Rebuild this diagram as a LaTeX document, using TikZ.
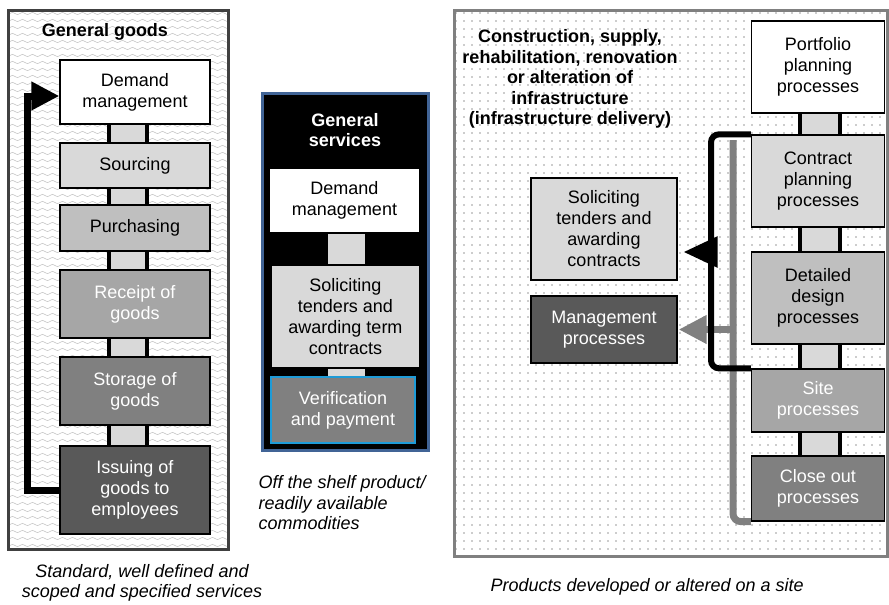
\documentclass[tikz,border=0pt]{standalone}
\usepackage{fontspec}
\setmainfont{Liberation Sans}
\usetikzlibrary{arrows.meta,patterns}

% background fills of the three panels
\pgfdeclarepatternformonly{wavy}{\pgfqpoint{-1pt}{-1pt}}{\pgfqpoint{11pt}{8pt}}{\pgfqpoint{10pt}{7pt}}{%
	\pgfsetlinewidth{0.5pt}
	\pgfpathmoveto{\pgfqpoint{0pt}{3.5pt}}
	\pgfpathsine{\pgfqpoint{2.5pt}{1.2pt}}
	\pgfpathcosine{\pgfqpoint{2.5pt}{-1.2pt}}
	\pgfpathsine{\pgfqpoint{2.5pt}{-1.2pt}}
	\pgfpathcosine{\pgfqpoint{2.5pt}{1.2pt}}
	\pgfusepath{stroke}}
\pgfdeclarepatternformonly{dotgrid}{\pgfqpoint{-1pt}{-1pt}}{\pgfqpoint{1pt}{1pt}}{\pgfqpoint{8pt}{8pt}}{%
	\pgfpathcircle{\pgfqpoint{0pt}{0pt}}{0.9pt}
	\pgfusepath{fill}}

\definecolor{servframe}{RGB}{65,100,150}
\definecolor{verframe}{RGB}{30,155,215}

\tikzset{
	box/.style={draw, line width=1.3pt, inner sep=0pt, align=center, font=\fontsize{18}{21}\selectfont},
	dark/.style={text=white},
	title/.style={align=center, font=\fontsize{18}{20.5}\selectfont\bfseries},
	caption/.style={font=\fontsize{18}{20.5}\selectfont\itshape},
}

\begin{document}
\begin{tikzpicture}[x=1pt,y=-1pt]
	\useasboundingbox (0,0) rectangle (889,605);
	
	%general goods
	\draw [line width=3pt, draw=black!75, pattern=wavy, pattern color=black!25](8,10) rectangle (228,549);
	\node [title](goods) at (105,32){General goods};
	\node [box, fill=white, minimum width=150pt, minimum height=64pt](dm) at (135,92){Demand\\management};
	\node [box, fill=black!15, minimum width=150pt, minimum height=45pt](src) at (135,165.5){Sourcing};
	\node [box, fill=black!25, minimum width=150pt, minimum height=46pt](pur) at (135,228){Purchasing};
	\node [box, dark, fill=black!35, minimum width=150pt, minimum height=68pt](rcp) at (135,304){Receipt of\\goods};
	\node [box, dark, fill=black!50, minimum width=150pt, minimum height=68pt](sto) at (135,391){Storage of\\goods};
	\node [box, dark, fill=black!65, minimum width=150pt, minimum height=88pt](iss) at (135,490){Issuing of\\goods to\\employees};
	\foreach \a/\b in {dm/src,src/pur,pur/rcp,rcp/sto,sto/iss}{
		\fill [black!15](109,0 |- \a.south) rectangle (147,0 |- \b.north);
		\draw [line width=3.5pt](109,0 |- \a.south) -- (109,0 |- \b.north);
		\draw [line width=3.5pt](147,0 |- \a.south) -- (147,0 |- \b.north);
	}
	\draw [line width=7pt, -{Triangle[length=28pt,width=27pt]}](iss.west) -- ++(-32,0) |- ([yshift=-4pt]dm.west);
	\node [caption, align=center](goodscap) at (142,583){Standard, well defined and\\scoped and specified services};
	
	%general services
	\draw [line width=3pt, draw=servframe, fill=black](262,93) rectangle (428,450);
	\node [title, text=white](serv) at (345,130){General\\services};
	\node [box, fill=white, minimum width=151pt, minimum height=65pt](sdm) at (344.5,200.5){Demand\\management};
	\node [box, fill=black!15, minimum width=149pt, minimum height=103pt](ssol) at (345.5,316.5){Soliciting\\tenders and\\awarding term\\contracts};
	\node [box, dark, fill=black!50, draw=verframe, minimum width=144pt, minimum height=66pt](sver) at (343,410){Verification\\and payment};
	\foreach \a/\b in {sdm/ssol,ssol/sver}{
		\fill [black!15](328,0 |- \a.south) rectangle (365,0 |- \b.north);
	}
	\node [caption, align=left, anchor=west](servcap) at (255,503){Off the shelf product/\\readily available\\commodities};
	
	%infrastructure delivery
	\draw [line width=3pt, draw=black!50, pattern=dotgrid, pattern color=black!40](454,10) rectangle (887,556);
	\node [title](infra) at (570,79){Construction, supply,\\rehabilitation, renovation\\or alteration of\\infrastructure\\(infrastructure delivery)};
	\node [box, fill=white, minimum width=133pt, minimum height=92pt](pp) at (818,67){Portfolio\\planning\\processes};
	\node [box, fill=black!15, minimum width=133pt, minimum height=92pt](cp) at (818,181){Contract\\planning\\processes};
	\node [box, fill=black!25, minimum width=133pt, minimum height=92pt](dd) at (818,298){Detailed\\design\\processes};
	\node [box, dark, fill=black!35, minimum width=133pt, minimum height=63pt](site) at (818,400.5){Site\\processes};
	\node [box, dark, fill=black!50, minimum width=133pt, minimum height=65pt](cls) at (818,488.5){Close out\\processes};
	\node [box, fill=black!15, minimum width=146pt, minimum height=102pt](sol) at (604,229){Soliciting\\tenders and\\awarding\\contracts};
	\node [box, dark, fill=black!65, minimum width=146pt, minimum height=67pt](mgt) at (604,329.5){Management\\processes};
	\foreach \a/\b in {pp/cp,cp/dd,dd/site,site/cls}{
		\fill [black!15](800,0 |- \a.south) rectangle (840,0 |- \b.north);
		\draw [line width=4pt](800,0 |- \a.south) -- (800,0 |- \b.north);
		\draw [line width=4pt](840,0 |- \a.south) -- (840,0 |- \b.north);
	}
	\coordinate (gtop) at (733,140);
	\coordinate (split) at (711,252);
	\draw [line width=7pt, black!50, rounded corners=8pt](gtop) |- (cls.south west);
	\draw [line width=7pt, black!50, -{Triangle[length=28pt,width=27pt]}, shorten >=1pt](gtop |- mgt.east) -- (mgt.east);
	\draw [line width=6pt, rounded corners=8pt](cp.north west) -- (split |- cp.north west) |- (site.north west);
	\draw [line width=6pt, -{Triangle[length=34pt,width=30pt]}, shorten >=6pt](split) -- (split -| sol.east);
	\node [caption, anchor=west](infracap) at (487,587){Products developed or altered on a site};
\end{tikzpicture}
\end{document}
